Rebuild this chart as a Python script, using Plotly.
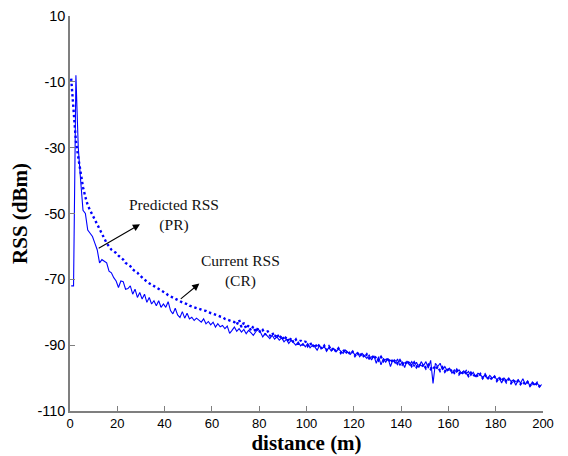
import plotly.graph_objects as go

# distance samples (m)
distance = [i + 0.5 for i in range(200)]

# Current RSS (dBm), solid line
current_rss = [
    -72, -72, -8, -30, -40, -49, -50, -55, -56, -57,
    -59, -61, -65, -64, -64.5, -65, -67.5, -68, -69.5, -70.5,
    -72.5, -70.5, -70.7, -73, -72.8, -72, -74.5, -73, -75.5, -74,
    -76, -74.5, -77, -75.5, -77.5, -76.5, -78, -76.5, -78.5, -77.5,
    -78.5, -76.8, -79.5, -80.5, -78.8, -80.8, -81.6, -79.8, -81.8, -80.3,
    -82, -81.5, -82.5, -81.8, -82.4, -83, -82, -83.5, -82.8, -83.8,
    -83, -84.5, -83.5, -84.4, -84, -85, -84.2, -86.4, -85.5, -84.5,
    -85.8, -85, -86, -85.2, -86.5, -85.5, -86.2, -87, -86, -85,
    -86, -87.5, -86.5, -87.2, -88, -87, -88.2, -87.5, -88.5, -87.8,
    -89, -88.2, -89.5, -88.5, -89.2, -90, -89, -90.2, -89.5, -90.5,
    -89.5, -90.8, -90, -90.5, -91.5, -90.2, -91, -90.5, -91.5, -90.8,
    -91.8, -91, -92, -91.2, -91.8, -92.5, -91.5, -92.2, -92.8, -92,
    -93, -92.2, -93.5, -92.5, -93.2, -94, -93, -94.5, -93.2, -95.5,
    -93.5, -96, -94, -95.2, -94, -96.5, -94.5, -95.5, -94.2, -96.2,
    -95, -96.8, -94.8, -96, -95, -96.5, -95.2, -96.8, -95, -96.2,
    -95, -97, -94.6, -101.6, -95.5, -96.5, -95.5, -97.5, -96.5, -97.8,
    -97, -98.5, -97.5, -98.2, -97.5, -98.5, -97.8, -98.8, -98, -99.2,
    -98.2, -99.5, -98.5, -99, -99.8, -99, -100.2, -99.2, -100, -99.5,
    -100.5, -99.8, -101.5, -100, -100.8, -100.2, -101, -100.5, -102.2, -100.5,
    -101.5, -100.2, -102, -101, -102.5, -101.2, -102, -101.5, -102.5, -102,
]

# Predicted RSS (dBm), dotted line
predicted_rss = [
    -9, -20, -28, -33, -38, -42, -45, -47.5, -49, -50.5,
    -52, -53.5, -55, -56.5, -58, -59, -60, -61, -61.5, -62,
    -62.8, -63.3, -64, -65, -65.5, -66, -67, -67.5, -68, -68.8,
    -69.5, -70, -70.7, -71.2, -71.6, -72, -72.5, -73, -73.4, -73.8,
    -74.2, -74.8, -75.2, -75.6, -76, -76.3, -76.6, -77, -77.3, -77.5,
    -78, -78.2, -78.5, -78.8, -79, -79.2, -79.5, -79.6, -80, -80.2,
    -80.5, -80.8, -81, -81.3, -81.5, -82, -82.2, -82.5, -82.8, -83,
    -83.8, -82.3, -84.5, -83.2, -85, -84, -85.6, -84.3, -86, -84.8,
    -86.2, -85.4, -86.8, -85.6, -87.2, -86.2, -87.6, -86.5, -88, -87,
    -88.5, -87.4, -89, -87.8, -89.2, -88.3, -89.8, -88.5, -90, -88.8,
    -90.2, -89.2, -90.6, -89.5, -90.8, -89.8, -91.2, -90.2, -91.5, -90.4,
    -91.6, -90.8, -92, -91, -92.3, -91.3, -92.6, -91.6, -92.8, -92,
    -93.2, -92.2, -93.4, -92.4, -93.8, -92.8, -94, -93.2, -94.3, -93.4,
    -94.6, -93.6, -94.8, -93.8, -95.2, -94, -95.4, -94.4, -95.6, -94.6,
    -95.8, -94.8, -96, -95, -96.3, -95.3, -96.6, -95.6, -96.8, -95.8,
    -97, -96, -97.2, -96.3, -97.5, -96.5, -97.8, -96.8, -98, -97,
    -98.2, -97.3, -98.4, -97.5, -98.8, -97.8, -99, -98, -99.3, -98.4,
    -99.5, -98.6, -99.8, -98.8, -100, -99, -100.3, -99.4, -100.5, -99.6,
    -100.8, -99.8, -101, -100, -101.2, -100.3, -101.5, -100.5, -101.6, -100.8,
    -101.8, -101, -102, -101.2, -102.3, -101.3, -102.4, -101.5, -102.5, -101.8,
]

x_ticks = [0, 20, 40, 60, 80, 100, 120, 140, 160, 180, 200]
x_tick_labels = ["0", "20", "40", "60", "80", "100", "120", "140", "160", "180", "200"]
y_ticks = [10, -10, -30, -50, -70, -90, -110]
y_tick_labels = ["10", "-10", "-30", "-50", "-70", "-90", "-110"]

fig = go.Figure()
fig.add_trace(go.Scatter(
    x=distance, y=current_rss, mode="lines", name="Current RSS (CR)",
    line=dict(color="#0000ff", width=1.1),
))
fig.add_trace(go.Scatter(
    x=distance, y=predicted_rss, mode="lines", name="Predicted RSS (PR)",
    line=dict(color="#0000ff", width=2.4, dash="2.4px,2.8px"),
))

serif = "Liberation Serif, Times New Roman, serif"

# Text labels
fig.add_annotation(x=44, y=-50.5, xref="x", yref="y", text="Predicted RSS<br>(PR)",
                   showarrow=False, font=dict(family=serif, size=15.5, color="#111"),
                   align="center")
fig.add_annotation(x=72, y=-67.5, xref="x", yref="y", text="Current RSS<br>(CR)",
                   showarrow=False, font=dict(family=serif, size=15.5, color="#111"),
                   align="center")
# Arrows
fig.add_annotation(x=29.6, y=-53.3, ax=11.5, ay=-60.8, xref="x", yref="y",
                   axref="x", ayref="y", text="", showarrow=True,
                   arrowhead=2, arrowsize=1.3, arrowwidth=1.1, arrowcolor="black")
fig.add_annotation(x=54.7, y=-71.3, ax=46.2, ay=-76.3, xref="x", yref="y",
                   axref="x", ayref="y", text="", showarrow=True,
                   arrowhead=2, arrowsize=1.3, arrowwidth=1.1, arrowcolor="black")

axis_common = dict(
    showgrid=False, zeroline=False, showline=True, linecolor="#7f7f7f", linewidth=1.5,
    ticks="inside", ticklen=5, tickcolor="#7f7f7f", tickwidth=1,
    mirror=False, automargin=False,
)
sans = "Arial, Liberation Sans, sans-serif"

# page body has an 8px margin, so the figure is offset by 8px
fig.update_layout(
    width=560, height=448,
    margin=dict(l=62, r=25, t=8, b=45),
    plot_bgcolor="white", paper_bgcolor="white",
    showlegend=False,
    xaxis=dict(range=[0, 200], tickvals=x_ticks, ticktext=x_tick_labels, **axis_common,
               tickfont=dict(family=sans, size=13, color="black"),
               title=dict(text="<b>distance (m)</b>", standoff=2,
                          font=dict(family=serif, size=21, color="black"))),
    yaxis=dict(range=[-110, 10], tickvals=y_ticks, ticktext=y_tick_labels, **axis_common,
               tickfont=dict(family=sans, size=14.5, color="black"),
               title=dict(text="<b>RSS (dBm)</b>", standoff=4,
                          font=dict(family=serif, size=21, color="black"))),
)

fig.write_html("out.html")
